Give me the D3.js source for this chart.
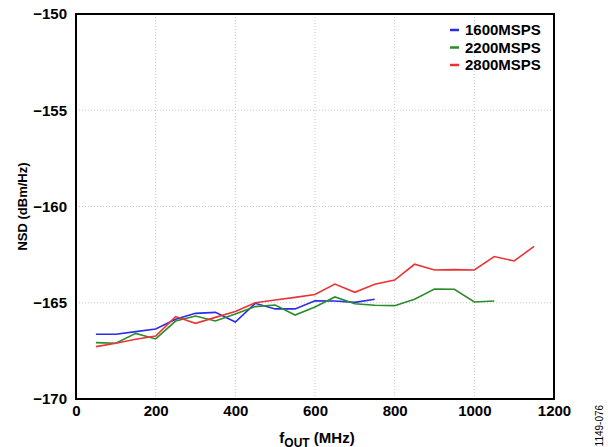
<!DOCTYPE html>
<html>
<head>
<meta charset="utf-8">
<script src="https://cdn.jsdelivr.net/npm/d3@7"></script>
<style>
body{margin:0;background:#fff;}
svg text{font-family:"Liberation Sans",Arial,sans-serif;font-weight:bold;}
</style>
</head>
<body>
<div id="chart"></div>
<script>
// frequencies (MHz)
var freqs = [50,100,150,200,250,300,350,400,450,500,550,600,650,700,750,800,850,900,950,1000,1050,1100,1150];

var nsd1600 = [-166.64,-166.64,-166.50,-166.36,-165.86,-165.55,-165.50,-166.0,-165.03,-165.32,-165.32,-164.9,-164.91,-164.98,-164.82];
var nsd2200 = [-167.07,-167.1,-166.59,-166.88,-165.95,-165.69,-165.95,-165.58,-165.2,-165.12,-165.64,-165.22,-164.70,-165.05,-165.13,-165.15,-164.82,-164.29,-164.30,-164.96,-164.91];
var nsd2800 = [-167.28,-167.1,-166.9,-166.73,-165.72,-166.07,-165.76,-165.46,-165.0,-164.86,-164.72,-164.57,-164.03,-164.46,-164.04,-163.82,-163.0,-163.3,-163.28,-163.3,-162.6,-162.83,-162.07];

var seriesNames = ["1600MSPS","2200MSPS","2800MSPS"];
var seriesColors = ["#2b2bea","#2a8c2a","#ea3434"];
var xTicks = [0,200,400,600,800,1000,1200];
var yTicks = [-170,-165,-160,-155,-150];

var margin = {top: 14, right: 54, bottom: 48, left: 76},
	width = 608 - margin.left - margin.right,
	height = 447 - margin.top - margin.bottom;

var svg = d3.select("#chart").append("svg")
	.attr("width", 608)
	.attr("height", 447);

var g = svg.append("g")
	.attr("transform", "translate(" + margin.left + "," + margin.top + ")");

var xscale = d3.scaleLinear().domain([0,1200]).range([0,width]);
var yscale = d3.scaleLinear().domain([-170,-150]).range([height,0]);

// grid
g.append("g").selectAll("line")
	.data(xTicks.slice(1,-1)).enter()
	.append("line")
	.attr("x1", function(d){return xscale(d)})
	.attr("x2", function(d){return xscale(d)})
	.attr("y1", 0).attr("y2", height)
	.style("stroke", "#c8c8c8")
	.style("stroke-width", 1)
	.style("stroke-dasharray", "1,2");

g.append("g").selectAll("line")
	.data(yTicks.slice(1,-1)).enter()
	.append("line")
	.attr("y1", function(d){return yscale(d)})
	.attr("y2", function(d){return yscale(d)})
	.attr("x1", 0).attr("x2", width)
	.style("stroke", "#c8c8c8")
	.style("stroke-width", 1)
	.style("stroke-dasharray", "1,2");

// axes
var xAxis = d3.axisBottom(xscale).tickValues(xTicks).tickSize(0).tickPadding(6)
	.tickFormat(d3.format("d"));
var yAxis = d3.axisLeft(yscale).tickValues(yTicks).tickSize(0).tickPadding(9)
	.tickFormat(function(d){return String(d).replace("-", "\u2212")});

var xg = g.append("g").attr("transform", "translate(0," + height + ")").call(xAxis);
var yg = g.append("g").call(yAxis);
[xg, yg].forEach(function(a){
	a.select(".domain").remove();
	a.selectAll("text").style("font-size", "15px").style("fill", "#000");
});

// lines
var line = d3.line()
	.x(function(d){return xscale(d[0])})
	.y(function(d){return yscale(d[1])});

[nsd1600, nsd2200, nsd2800].forEach(function(vals, i){
	var pts = vals.map(function(v, j){return [freqs[j], v]});
	g.append("path")
		.datum(pts)
		.attr("d", line)
		.style("fill", "none")
		.style("stroke", seriesColors[i])
		.style("stroke-width", 1.6);
});

// frame
g.append("rect")
	.attr("x", 0).attr("y", 0)
	.attr("width", width).attr("height", height)
	.style("fill", "none")
	.style("stroke", "#000")
	.style("stroke-width", 2);

// legend
var leg = g.selectAll(".leg")
	.data(seriesNames).enter()
	.append("g")
	.attr("transform", function(d,i){return "translate(" + (width - 104) + "," + (16 + i*17.5) + ")"});
leg.append("line")
	.attr("x1", 0).attr("x2", 9)
	.style("stroke", function(d,i){return seriesColors[i]})
	.style("stroke-width", 2.5);
leg.append("text")
	.attr("x", 15).attr("dy", "0.36em")
	.style("font-size", "15px")
	.text(function(d){return d});

// axis titles
svg.append("text")
	.attr("transform", "rotate(-90)")
	.attr("x", -(margin.top + height/2))
	.attr("y", 27)
	.style("text-anchor", "middle")
	.style("font-size", "13px")
	.text("NSD (dBm/Hz)");

var xt = svg.append("text")
	.attr("x", 317)
	.attr("y", 443)
	.style("text-anchor", "middle")
	.style("font-size", "15px");
xt.append("tspan").text("f");
xt.append("tspan").attr("dy", 4).style("font-size", "12px").text("OUT");
xt.append("tspan").attr("dy", -4).text(" (MHz)");

svg.append("text")
	.attr("transform", "translate(603,452) rotate(-90)")
	.style("font-size", "10px")
	.style("font-weight", "normal")
	.text("21149-076");
</script>
</body>
</html>
